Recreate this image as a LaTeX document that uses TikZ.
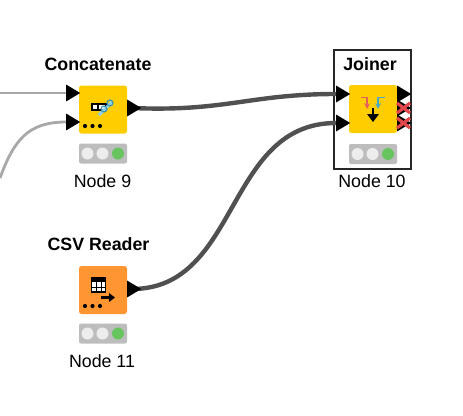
\documentclass[tikz,border=0pt]{standalone}
\usepackage{fontspec}
\setmainfont{Liberation Sans}
\usetikzlibrary{shapes.geometric}
\pgfdeclarelayer{wires}
\pgfsetlayers{wires,main}
\definecolor{nodeyellow}{HTML}{FFCD00}
\definecolor{nodeorange}{HTML}{FF9632}
\definecolor{statusgrey}{HTML}{BDBDBD}
\definecolor{lampoff}{HTML}{EDEDED}
\definecolor{lampgreen}{HTML}{68C45E}
\definecolor{wiredark}{HTML}{505050}
\definecolor{wirelight}{HTML}{A8A8A8}
\definecolor{crossred}{HTML}{E2474C}
\definecolor{chainblue}{HTML}{8FD0E8}
\definecolor{chainteal}{HTML}{3E97B5}
\definecolor{arrowblue}{HTML}{4FA8C8}
\definecolor{arrowred}{HTML}{E8605A}
\tikzset{
  x=1pt,y=-1pt,
  body/.style={minimum width=48pt,minimum height=48pt,inner sep=0pt,rounded corners=2.5pt},
  status/.style={fill=statusgrey,minimum width=48pt,minimum height=20pt,inner sep=0pt,rounded corners=2pt},
  port/.style={isosceles triangle,isosceles triangle apex angle=62,fill=black,inner sep=0pt,minimum height=14pt,minimum width=15pt,anchor=west},
  lamp/.style={circle,minimum size=12pt,inner sep=0pt},
  title/.style={font=\fontsize{17.8}{20}\selectfont\bfseries,text=black,inner sep=0pt},
  caption/.style={font=\fontsize{17.8}{20}\selectfont,text=black,inner sep=0pt},
  darkwire/.style={draw=wiredark,line width=4.4pt},
  lightwire/.style={draw=wirelight,line width=2.8pt},
  dot/.style={circle,fill=black,minimum size=4.2pt,inner sep=0pt},
  frame/.style={draw=black!85,line width=1.1pt,fill=white,minimum width=77pt,minimum height=119pt,inner sep=0pt}
}
\begin{document}
\begin{tikzpicture}
\useasboundingbox (0,0) rectangle (463,415);
\begin{pgfonlayer}{wires}
\fill[white] (0,0) rectangle (463,415);
\node[frame] (frameJ) at (372.5,109.5) {};
\end{pgfonlayer}
% free ends
\coordinate (inA) at (0,93);
\coordinate (inB) at (0,178);
% bodies
\node[body,fill=nodeyellow] (c) at (103,109.5) {};
\node[body,fill=nodeyellow] (j) at (373,109) {};
\node[body,fill=nodeorange] (r) at (103,290) {};
% ports
\node[port] (c1) at (66,93) {};
\node[port] (c2) at (66,122) {};
\node[port] (co) at (127,108) {};
\node[port] (j1) at (336,94) {};
\node[port] (j2) at (336,123) {};
\node[port] (jo) at (397,94) {};
\node[port] (jx) at (397,108) {};
\node[port] (jy) at (397,123) {};
\node[port] (ro) at (127,289) {};
% wires
\begin{pgfonlayer}{wires}
\draw[lightwire] (inA) -- (c1.west);
\draw[lightwire] (inB) .. controls (14,140) and (28,122) .. (c2.west);
\draw[darkwire] (co.center) .. controls (225,112) and (250,94) .. (j1.west);
\draw[darkwire] (ro.center) .. controls (240,289) and (225,123) .. (j2.west);
\end{pgfonlayer}
% status lights
\node[status] (cs) at (103,153.5) {};
\node[status] (js) at (373,154) {};
\node[status] (rs) at (103,333.5) {};
\foreach \s in {cs,js,rs}{
  \node[lamp,fill=lampoff] (\s a) at ([xshift=-15.5pt]\s.center) {};
  \node[lamp,fill=lampoff] (\s b) at ([xshift=-0.5pt]\s.center) {};
  \node[lamp,fill=lampgreen] (\s c) at ([xshift=15pt]\s.center) {};
}
% dots
\foreach \bx/\by in {85/126,92.5/126,100/126,85/306,92.5/306,100/306}
  \node[dot] (d\bx\by) at (\bx,\by) {};
% Concatenate glyph
\draw[black,line width=1.2pt,fill=white] (92,104) rectangle (106,110);
\draw[black,line width=1.2pt] (98,104) -- (98,110);
\draw[line width=3pt,draw=chainblue] (99,115) -- (112,102);
\draw[line width=1.2pt,draw=chainteal] (104,109) circle (3) (110,103) circle (3);
% Joiner glyph
\draw[arrowred,line width=1.5pt,-stealth] (361,97.5) -- (367,97.5) -- (367,109);
\draw[arrowblue,line width=1.5pt,-stealth] (385,97.5) -- (378,97.5) -- (378,109);
\draw[black,line width=2.4pt] (373,108) -- (373,116);
\fill[black] (367,114) -- (379,114) -- (373,122) -- cycle;
% Reader glyph
\draw[black,line width=1.1pt,fill=white] (91.5,278) rectangle (105.5,292);
\fill[black] (91,278) rectangle (106,282);
\draw[black,line width=.8pt] (91,287) -- (105,287) (96,282) -- (96,292) (101,282) -- (101,292);
\draw[black,line width=2.4pt] (101,297.5) -- (110,297.5);
\fill[black] (109,293) -- (115,297.5) -- (109,302) -- cycle;
% crosses
\foreach \cy in {108,123}{
  \draw[crossred,line width=3.2pt] (397,\cy-5) -- (410,\cy+5) (410,\cy-5) -- (397,\cy+5);
}
% labels
\node[title] (ct) at (98,64) {Concatenate};
\node[title] (jt) at (370,64) {Joiner};
\node[title] (rt) at (98.5,244) {CSV Reader};
\node[caption] (cc) at (102.5,181) {Node 9};
\node[caption] (jc) at (372,181) {Node 10};
\node[caption] (rc) at (102,361) {Node 11};
\end{tikzpicture}
\end{document}
